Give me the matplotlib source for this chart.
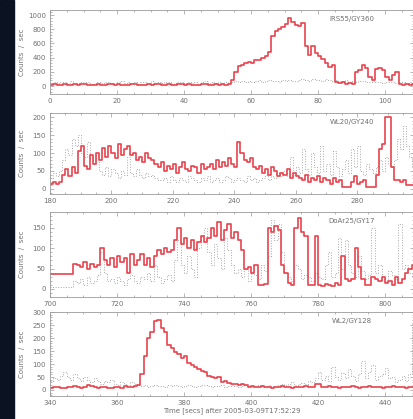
import matplotlib
matplotlib.use("Agg")
import matplotlib.pyplot as plt
import numpy as np
from matplotlib.patches import Rectangle
from matplotlib.ticker import MultipleLocator, AutoMinorLocator

# ---- data (counts/sec in 1 s bins) ----
names = ["IRS55/GY360", "WL20/GY240", "DoAr25/GY17", "WL2/GY128"]
t_start = [0, 180, 700, 340]
bin_width = 1.0

red1 = [20, 25, 15, 20, 30, 20, 15, 25, 20, 25, 30, 20, 15, 20, 25, 20, 15, 25, 30, 20,
        25, 20, 15, 20, 25, 30, 20, 15, 20, 25, 20, 30, 25, 15, 20, 25, 20, 15, 25, 30,
        20, 25, 20, 15, 20, 25, 30, 20, 15, 25, 20, 25, 20, 30,
        80, 200, 280, 300, 330, 340, 330, 370, 360, 390, 420, 480, 700, 770, 800, 830,
        870, 960, 900, 860, 840, 890, 560, 440, 560, 470, 420, 380, 330, 270, 300,
        60, 40, 60, 30, 40, 30, 200, 230, 300, 250, 130, 80, 240, 250, 220, 130, 90,
        150, 200, 30, 20, 25, 20, 25]
grey1 = [45, 60, 40, 55, 50, 35, 65, 45, 40, 55, 50, 60, 35, 45, 55, 40, 60, 50, 45, 35,
         55, 65, 40, 50, 45, 60, 35, 55, 50, 40, 65, 45, 55, 40, 50, 60, 35, 45, 55, 50,
         40, 60, 45, 55, 35, 50, 65, 40, 55, 45, 50, 40, 60, 45,
         55, 65, 50, 70, 60, 75, 55, 65, 80, 60, 70, 85, 65, 75, 60, 80, 70, 90, 75, 65,
         85, 95, 80, 70, 100, 85, 90, 75, 95, 80, 70, 85,
         75, 65, 80, 60, 70, 55, 65, 75, 60, 50, 65, 55, 60, 45, 55, 50, 60, 45, 55, 50,
         40, 50, 45]

red2 = [15, 20, 15, 18, 40, 55, 35, 60, 45, 105, 120, 65, 55, 95, 70, 100, 80,
        115, 90, 120, 100, 85, 125, 95, 110, 120, 95, 100, 80, 90, 75, 100, 85, 80,
        70, 60, 75, 50, 65, 55, 70, 45, 60, 75, 55, 50, 65, 60, 45, 70, 55, 60,
        70, 55, 80, 60, 75, 65, 85, 70, 60, 130, 100, 80, 75, 85,
        60, 55, 65, 45, 55, 40, 60, 50, 35, 45, 40, 55, 30, 45, 35,
        30, 25, 40, 20, 30, 25, 35, 20, 30, 25, 15, 30, 20, 25,
        5, 5, 5, 20, 35, 15, 20, 25, 5, 5, 5, 40, 110, 125, 200, 200, 60,
        25, 25, 20, 25, 10, 10, 10]
grey2 = [30, 45, 35, 50, 80, 110, 95, 140, 120, 150, 100, 90, 130, 85, 70, 95,
         50, 40, 60, 35, 55, 45, 30, 50, 40, 90, 45, 35, 55, 40, 30, 45, 35, 40, 30, 25,
         25, 30, 20, 35, 25, 20, 30, 25, 20, 35, 30, 25, 20, 30, 25, 35, 20, 25, 30, 20,
         25, 35, 30, 20, 25, 30, 25, 20, 35, 25, 30, 20, 25, 30, 40, 25, 35, 30, 45, 35,
         50, 35, 90, 40, 60, 45, 110, 55, 40, 100, 60, 45, 120, 50, 70, 40, 105, 60, 35,
         55, 80, 45, 110, 60, 120, 50, 40, 70, 55, 45, 60, 80, 50, 90, 70,
         60, 80, 140, 110, 175, 120, 90, 60]

red3 = [37, 37, 37, 37, 37, 37, 37, 62, 60, 55, 65, 50, 62, 55, 58, 100, 70, 60, 75, 55,
        80, 65, 75, 40, 85, 60, 70, 85, 60, 75, 55, 80, 95, 85, 100, 90, 95,
        120, 150, 110, 125, 100, 120, 95, 115, 130, 115, 125,
        150, 130, 165, 120, 145, 160, 125, 140, 120, 95, 50, 55, 40, 60, 10, 10, 12,
        150, 140, 155, 145, 60, 40, 15, 10, 150, 175, 140, 130, 10, 10, 130,
        10, 8, 12, 10, 8, 15, 10, 80, 25, 20, 25, 100, 55, 25, 10, 10,
        30, 25, 20, 30, 15, 20, 10, 30, 15, 25, 40, 50, 60]
grey3 = [5, 5, 5, 5, 5, 5, 5,
         20, 15, 25, 10, 30, 15, 20, 35, 90, 40, 20, 25, 15, 30, 20, 10, 25, 35, 20, 15,
         30, 25, 40, 20, 60, 30, 15, 25, 35, 20,
         70, 120, 60, 40, 80, 50, 30, 100, 130, 150, 90, 60, 110, 75, 50, 125, 95, 60, 40, 50,
         30, 50, 20, 40, 35, 25, 60, 45, 80, 170, 120, 160, 90, 40, 30, 20, 60, 50, 25, 35,
         30, 20, 40, 30, 25, 60, 90, 30, 40, 125, 50, 120, 60, 40, 30, 80, 45, 25, 35, 150,
         40, 60, 30, 20, 45, 35, 25, 160, 50, 60, 40, 30]

red4 = [8, 10, 12, 8, 6, 10, 12, 15, 10, 8, 12, 18, 15, 10, 8, 12, 10, 6, 8, 12, 10, 8,
        15, 12, 10, 14, 18, 60, 130, 200, 225, 265, 270, 240, 225,
        175, 160, 145, 140, 125, 130, 105, 95, 90, 80, 75, 70, 55, 50, 45, 50, 30, 35,
        28, 25, 25, 20, 22, 18,
        12, 15, 10, 12, 14, 10, 12, 8, 12, 10, 14, 12, 10, 8, 12, 10, 12, 14, 10, 12,
        22, 25,
        12, 10, 14, 12, 10, 8, 12, 10, 12, 14, 10, 8, 12, 10, 14, 12, 10, 12, 8, 10,
        12, 14, 10, 12, 10, 8, 12, 10]
grey4 = [35, 45, 40, 55, 70, 50, 40, 60, 45, 35, 50, 40, 30, 45, 35,
         25, 35, 30, 40, 25, 20, 30, 25, 20, 30, 22, 18,
         15, 18, 12, 15, 20, 14, 16, 12, 18, 15, 20, 14, 12, 16, 18, 14, 12, 15, 18, 20,
         14, 12, 16, 15, 18, 12, 14, 20, 16, 12, 15, 18, 14, 12, 16, 20, 15, 12, 18, 14,
         16, 20, 25, 18, 22, 30, 20, 25, 28, 22, 35, 30,
         45, 70, 40, 55, 35, 90, 50, 40, 65, 45, 80, 55, 35, 60, 110, 45, 70, 95, 40, 55,
         60, 85, 45, 50, 30, 40, 55, 35, 60, 260]

red_series = [red1, red2, red3, red4]
grey_series = [grey1, grey2, grey3, grey4]

# ---- layout / style ----
x_limits = [(0, 108.6), (180, 298.5), (700, 808.7), (340, 448.7)]
y_limits = [(-110, 1070), (-14, 211), (-20, 189), (-23, 300)]
x_major = [20, 20, 20, 20]
y_major = [200, 50, 50, 50]
panel_bottoms = [0.776, 0.537, 0.291, 0.055]
panel_heights = [0.200, 0.193, 0.203, 0.200]

RED = "#e8434d"
GREY = "#a9a9a9"
TXT = "#707070"
AX = "#9a9a9a"

fig = plt.figure(figsize=(4.14, 4.19), dpi=100)
fig.patch.set_facecolor("white")
fig.patches.append(Rectangle((0, 0), 14 / 414, 1, transform=fig.transFigure,
                             color="#0b1222", zorder=-10))

left = 50 / 414
for i in range(4):
    ax = fig.add_axes([left, panel_bottoms[i], 1.0 - left, panel_heights[i]])
    n = len(red_series[i])
    edges = t_start[i] + np.arange(n + 1) * bin_width
    g = np.append(grey_series[i], grey_series[i][-1])
    r = np.append(red_series[i], red_series[i][-1])
    ax.step(edges, g, where="post", color=GREY, lw=0.7, ls=":")
    ax.step(edges, r, where="post", color=RED, lw=1.2)

    ax.set_xlim(*x_limits[i])
    ax.set_ylim(*y_limits[i])
    ax.xaxis.set_major_locator(MultipleLocator(x_major[i]))
    ax.yaxis.set_major_locator(MultipleLocator(y_major[i]))
    ax.xaxis.set_minor_locator(AutoMinorLocator(4))
    ax.yaxis.set_minor_locator(AutoMinorLocator(5))
    ax.tick_params(which="both", direction="in", top=True, right=True,
                   colors=AX, labelcolor=TXT, labelsize=5, width=0.5)
    ax.tick_params(which="major", length=3, pad=3)
    ax.tick_params(which="minor", length=1.5)
    for sp in ax.spines.values():
        sp.set_color(AX)
        sp.set_linewidth(0.6)
    ax.set_ylabel("Counts  /  sec", fontsize=5, color=TXT)
    ax.yaxis.set_label_coords(-0.068, 0.5)
    ax.text(0.83, 0.93, names[i], transform=ax.transAxes, fontsize=5,
            color=TXT, ha="center", va="top")
    if i == 3:
        ax.set_xlabel("Time [secs] after 2005-03-09T17:52:29", fontsize=5,
                      color=TXT, labelpad=1)

fig.savefig("out.png", dpi=100, facecolor="white")
